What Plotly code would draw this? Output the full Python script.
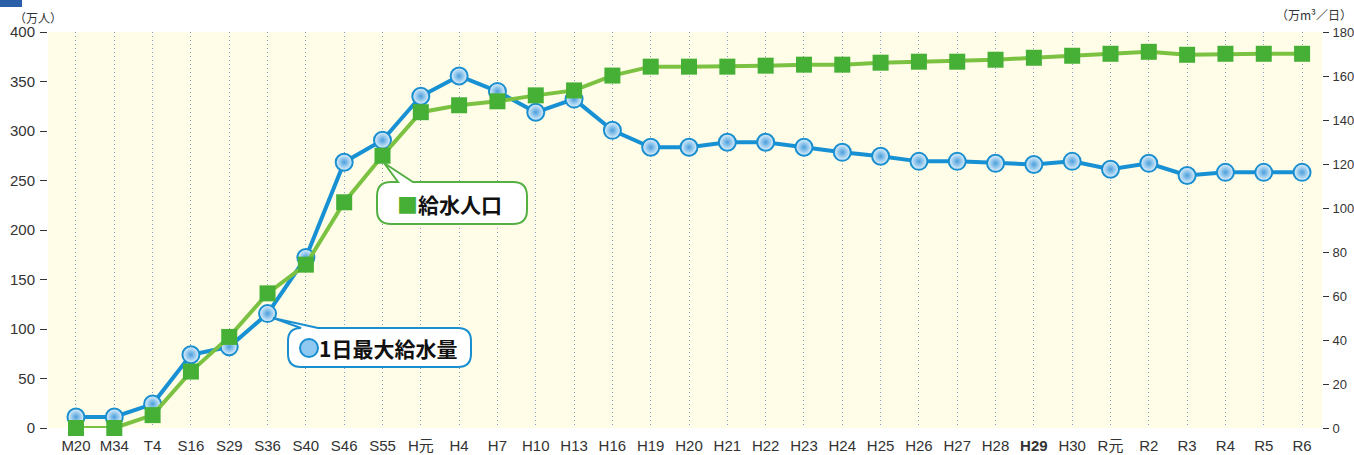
import plotly.graph_objects as go

categories = ["M20", "M34", "T4", "S16", "S29", "S36", "S40", "S46", "S55", "H元",
              "H4", "H7", "H10", "H13", "H16", "H19", "H20", "H21", "H22", "H23",
              "H24", "H25", "H26", "H27", "H28", "H29", "H30", "R元", "R2", "R3",
              "R4", "R5", "R6"]
tick_labels = [("<b>%s</b>" % c if c == "H29" else c) for c in categories]

# 給水人口 (万人) - left axis
population = [0, 0, 13, 57, 92, 136, 165, 228, 275, 319,
              326, 330, 336, 341, 356, 365, 365, 365, 366, 367,
              367, 369, 370, 370, 372, 374, 376, 378, 380, 377,
              378, 378, 378]
# 1日最大給水量 (万m³/日) - right axis
max_supply = [5, 5, 10.9, 33.3, 36.9, 52, 77.5, 120.8, 130.8, 150.8,
              160, 153, 143.5, 149.5, 135.3, 127.6, 127.6, 129.9, 129.9, 127.6,
              125.3, 123.5, 121.2, 121.2, 120.3, 119.8, 121.2, 117.6, 120.3, 114.8,
              116.2, 116.2, 116.2]

W, H = 1354, 455
L, R, T, B = 48, 32, 32, 27
PW, PH = W - L - R, H - T - B

def px(x):
    return (x - L) / PW

def py(y):
    return (H - B - y) / PH

def callout_path(x0, y0, x1, y1, r, ta, tb, tip):
    def P(x, y):
        return "%.5f,%.5f" % (px(x), py(y))
    s = "M" + P(x0 + r, y0)
    s += " L" + P(ta, y0) + " L" + P(*tip) + " L" + P(tb, y0)
    s += " L" + P(x1 - r, y0) + " Q" + P(x1, y0) + " " + P(x1, y0 + r)
    s += " L" + P(x1, y1 - r) + " Q" + P(x1, y1) + " " + P(x1 - r, y1)
    s += " L" + P(x0 + r, y1) + " Q" + P(x0, y1) + " " + P(x0, y1 - r)
    s += " L" + P(x0, y0 + r) + " Q" + P(x0, y0) + " " + P(x0 + r, y0) + " Z"
    return s

BLUE = "#1791D3"
GREEN_LINE = "#7CC242"
GREEN_MK = "#45B035"

fig = go.Figure()
fig.add_trace(go.Scatter(
    x=categories, y=max_supply, yaxis="y", mode="lines+markers",
    name="1日最大給水量",
    line=dict(color=BLUE, width=4),
    marker=dict(symbol="circle", size=17, color="#E6F3FD",
                gradient=dict(type="radial", color="#4A9FDD"),
                line=dict(color="#1A8FD0", width=2)),
    cliponaxis=False, showlegend=False))
fig.add_trace(go.Scatter(
    x=categories, y=population, yaxis="y2", mode="lines+markers",
    name="給水人口",
    line=dict(color=GREEN_LINE, width=4),
    marker=dict(symbol="square", size=16, color=GREEN_MK, line=dict(width=0)),
    cliponaxis=False, showlegend=False))

tickfont = dict(family="Liberation Sans, Arial, Noto Sans CJK JP", size=15, color="#333333")
rtickfont = dict(family="Liberation Sans, Arial", size=13, color="#333333")

fig.update_layout(
    width=W, height=H,
    margin=dict(l=L, r=R, t=T, b=B, pad=0, autoexpand=False),
    paper_bgcolor="white", plot_bgcolor="#FFFDE8",
    xaxis=dict(type="category", categoryorder="array", categoryarray=categories,
               tickmode="array", tickvals=categories, ticktext=tick_labels,
               range=[-0.73, 32.52], showgrid=True, gridcolor="#7F9CC4",
               gridwidth=1, griddash="1px,3px", showline=False, zeroline=False,
               ticks="", tickfont=tickfont, ticklabelstandoff=7, fixedrange=True,
               automargin=False),
    yaxis=dict(side="right", range=[0, 180], dtick=20, showgrid=False, zeroline=False,
               ticks="outside", ticklen=6, tickcolor="#333333", tickwidth=1,
               tickfont=rtickfont, showline=False, ticklabelstandoff=1, automargin=False),
    yaxis2=dict(side="left", overlaying="y", range=[0, 400], dtick=50, showgrid=False,
                zeroline=False, ticks="outside", ticklen=7, tickcolor="#333333",
                tickwidth=1, tickfont=tickfont, showline=False, ticklabelstandoff=2,
                automargin=False),
    font=dict(family="Liberation Sans, Noto Sans CJK JP"),
)

# callout boxes
fig.add_shape(type="path", xref="paper", yref="paper",
              path=callout_path(377, 182, 527, 224, 14, 398, 413, (384, 163)),
              line=dict(color="#55B043", width=2), fillcolor="white", layer="above")
fig.add_shape(type="path", xref="paper", yref="paper",
              path=callout_path(288, 328, 471, 367, 13, 301, 318, (273, 318)),
              line=dict(color="#1A8FD0", width=2), fillcolor="white", layer="above")
fig.add_shape(type="circle", xref="paper", yref="paper",
              x0=px(300), x1=px(318), y0=py(339), y1=py(357),
              line=dict(color="#1A8FD0", width=2), fillcolor="#8FC8F0", layer="above")

cjk = "Noto Sans CJK JP"
fig.add_annotation(xref="paper", yref="paper", x=px(395), y=py(204),
                   xanchor="left", yanchor="middle", showarrow=False,
                   text="<span style='color:%s'>■</span><b>給水人口</b>" % GREEN_MK,
                   font=dict(family=cjk, size=21, color="#111111"))
fig.add_annotation(xref="paper", yref="paper", x=px(317), y=py(348),
                   xanchor="left", yanchor="middle", showarrow=False,
                   text="<b>1日最大給水量</b>",
                   font=dict(family=cjk, size=21, color="#111111"))

# unit labels
fig.add_annotation(xref="paper", yref="paper", x=px(12), y=py(17),
                   xanchor="left", yanchor="middle", showarrow=False,
                   text="（万人）", font=dict(family=cjk, size=12, color="#333333"))
fig.add_annotation(xref="paper", yref="paper", x=px(1354), y=py(15),
                   xanchor="right", yanchor="middle", showarrow=False,
                   text="（万m³／日）", font=dict(family=cjk, size=12, color="#333333"))

# top-left header block
fig.add_shape(type="rect", xref="paper", yref="paper",
              x0=px(0), x1=px(22), y0=py(7), y1=py(0),
              line=dict(width=0), fillcolor="#2B5FA8", layer="above")

fig.write_html("out.html",
               config={"displayModeBar": False},
               post_script="document.body.style.margin='0px';"
                           "document.body.style.overflow='hidden';")
